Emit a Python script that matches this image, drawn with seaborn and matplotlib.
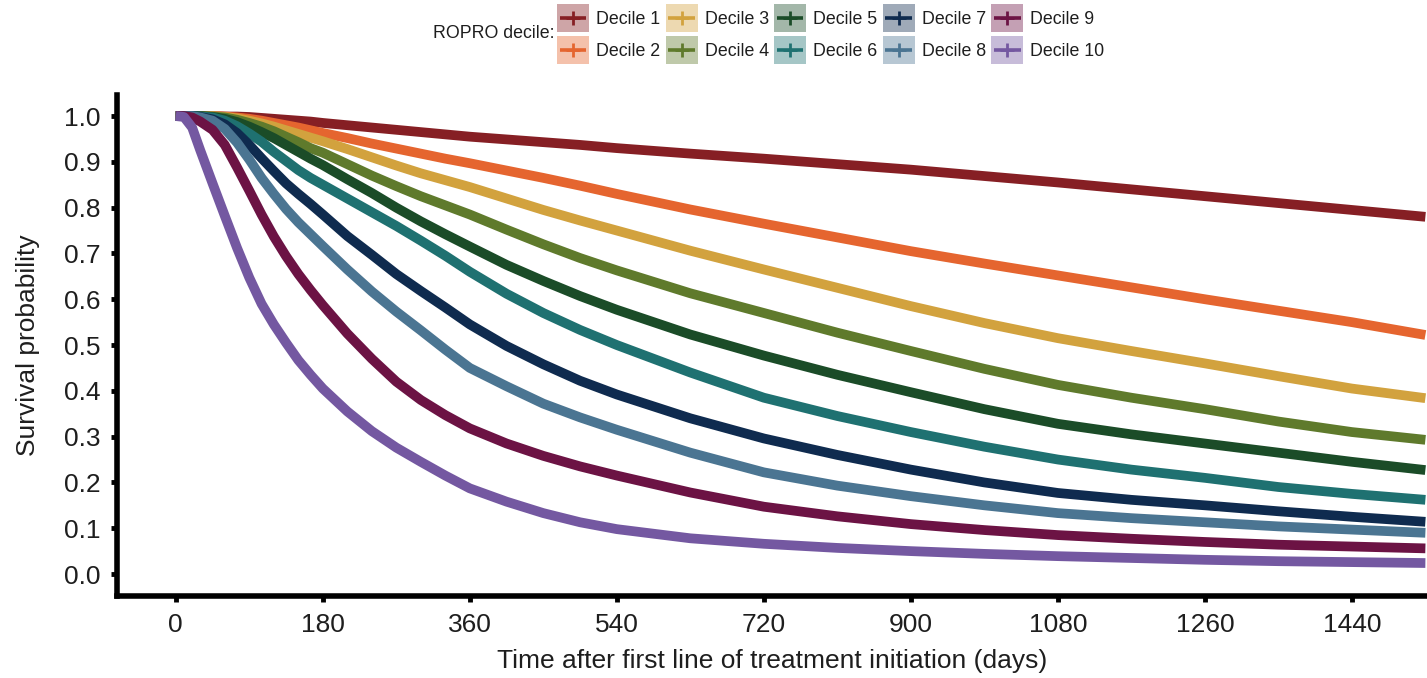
import numpy as np
import pandas as pd
import matplotlib
matplotlib.use("Agg")
import matplotlib.pyplot as plt
import seaborn as sns
from matplotlib.patches import Rectangle
from matplotlib.lines import Line2D
from matplotlib.legend_handler import HandlerBase

# Kaplan-Meier survival estimates by ROPRO decile (days after 1L start)
days = [0, 10, 20, 30, 45, 60, 75, 90, 105, 120, 135, 150, 165, 180, 210,
        240, 270, 300, 330, 360, 405, 450, 495, 540, 630, 720, 810, 900,
        990, 1080, 1170, 1260, 1350, 1440, 1530]

decile_1 = [1.0, 1.0, 1.0, 1.0, 1.0, 0.999, 0.999, 0.998, 0.996, 0.994,
            0.992, 0.99, 0.988, 0.985, 0.98, 0.975, 0.97, 0.965, 0.96, 0.955,
            0.949, 0.943, 0.937, 0.93, 0.918, 0.907, 0.895, 0.883, 0.869,
            0.855, 0.84, 0.825, 0.81, 0.795, 0.78]
decile_2 = [1.0, 1.0, 1.0, 1.0, 1.0, 0.999, 0.997, 0.994, 0.99, 0.985,
            0.98, 0.975, 0.969, 0.963, 0.952, 0.94, 0.929, 0.918, 0.907,
            0.897, 0.881, 0.865, 0.848, 0.83, 0.796, 0.765, 0.735, 0.705,
            0.678, 0.652, 0.626, 0.6, 0.575, 0.55, 0.522]
decile_3 = [1.0, 1.0, 1.0, 1.0, 1.0, 0.998, 0.995, 0.99, 0.984, 0.977,
            0.969, 0.961, 0.953, 0.945, 0.928, 0.91, 0.892, 0.875, 0.86,
            0.845, 0.82, 0.795, 0.772, 0.75, 0.706, 0.665, 0.625, 0.585,
            0.548, 0.515, 0.487, 0.46, 0.432, 0.405, 0.384]
decile_4 = [1.0, 1.0, 1.0, 1.0, 0.999, 0.997, 0.992, 0.985, 0.977, 0.967,
            0.955, 0.943, 0.93, 0.92, 0.895, 0.87, 0.847, 0.825, 0.805,
            0.785, 0.752, 0.72, 0.69, 0.663, 0.613, 0.57, 0.527, 0.487,
            0.448, 0.413, 0.385, 0.36, 0.333, 0.31, 0.293]
decile_5 = [1.0, 1.0, 1.0, 1.0, 0.998, 0.994, 0.987, 0.977, 0.965, 0.952,
            0.937, 0.922, 0.907, 0.893, 0.862, 0.832, 0.8, 0.77, 0.742,
            0.715, 0.675, 0.64, 0.607, 0.577, 0.523, 0.477, 0.435, 0.397,
            0.36, 0.328, 0.305, 0.285, 0.265, 0.245, 0.227]
decile_6 = [1.0, 1.0, 1.0, 0.999, 0.997, 0.99, 0.978, 0.962, 0.944, 0.922,
            0.902, 0.882, 0.865, 0.85, 0.82, 0.79, 0.76, 0.728, 0.695,
            0.66, 0.612, 0.57, 0.533, 0.5, 0.44, 0.385, 0.345, 0.31,
            0.278, 0.25, 0.228, 0.21, 0.19, 0.175, 0.162]
decile_7 = [1.0, 1.0, 1.0, 0.998, 0.993, 0.982, 0.963, 0.937, 0.908, 0.88,
            0.853, 0.83, 0.808, 0.785, 0.738, 0.697, 0.655, 0.618, 0.582,
            0.545, 0.498, 0.458, 0.422, 0.392, 0.34, 0.296, 0.26, 0.228,
            0.2, 0.177, 0.162, 0.15, 0.137, 0.125, 0.114]
decile_8 = [1.0, 1.0, 1.0, 0.997, 0.99, 0.972, 0.942, 0.905, 0.865, 0.83,
            0.797, 0.768, 0.742, 0.716, 0.665, 0.617, 0.573, 0.532, 0.49,
            0.45, 0.41, 0.372, 0.342, 0.315, 0.265, 0.222, 0.193, 0.17,
            0.15, 0.133, 0.122, 0.113, 0.104, 0.097, 0.09]
decile_9 = [1.0, 1.0, 0.997, 0.988, 0.97, 0.937, 0.888, 0.837, 0.785, 0.737,
            0.694, 0.655, 0.62, 0.587, 0.525, 0.47, 0.42, 0.38, 0.347,
            0.318, 0.285, 0.258, 0.235, 0.215, 0.178, 0.147, 0.126, 0.109,
            0.096, 0.085, 0.077, 0.07, 0.064, 0.06, 0.056]
decile_10 = [1.0, 0.998, 0.975, 0.925, 0.853, 0.782, 0.712, 0.647, 0.59,
             0.545, 0.505, 0.467, 0.435, 0.405, 0.355, 0.312, 0.276, 0.245,
             0.215, 0.187, 0.158, 0.133, 0.113, 0.098, 0.078, 0.066, 0.057,
             0.05, 0.044, 0.039, 0.035, 0.031, 0.028, 0.026, 0.024]

decile_labels = [f"Decile {i}" for i in range(1, 11)]
survival = [decile_1, decile_2, decile_3, decile_4, decile_5,
            decile_6, decile_7, decile_8, decile_9, decile_10]

colors = ["#861F24", "#E5652F", "#D2A23E", "#5F7A2C", "#1B4C28",
          "#1F7171", "#0F2B4F", "#4B7592", "#6C1344", "#7458A1"]

x_ticks = [0, 180, 360, 540, 720, 900, 1080, 1260, 1440]
y_ticks = [0.0, 0.1, 0.2, 0.3, 0.4, 0.5, 0.6, 0.7, 0.8, 0.9, 1.0]

df = pd.DataFrame({
    "day": np.tile(days, len(decile_labels)),
    "survival": np.concatenate(survival),
    "decile": np.repeat(decile_labels, len(days)),
})

sns.set_theme(style="white")
plt.rcParams["font.family"] = ["Liberation Sans", "DejaVu Sans"]
text_color = "#1e1e1e"

fig = plt.figure(figsize=(14.27, 6.78), dpi=100)
fig.patch.set_facecolor("white")
ax = fig.add_axes([117 / 1427, 82 / 678, 1310 / 1427, 501 / 678])

sns.lineplot(data=df, x="day", y="survival", hue="decile",
             hue_order=decile_labels, palette=colors, linewidth=7,
             legend=False, ax=ax, solid_capstyle="butt",
             solid_joinstyle="round")

ax.set_xlim(-72, 1532)
ax.set_ylim(-0.048, 1.046)
ax.set_xticks(x_ticks)
ax.set_xticklabels([str(t) for t in x_ticks])
ax.set_yticks(y_ticks)
ax.set_yticklabels([f"{t:.1f}" for t in y_ticks])

for side in ["top", "right"]:
    ax.spines[side].set_visible(False)
for side in ["left", "bottom"]:
    ax.spines[side].set_linewidth(4)
    ax.spines[side].set_color("black")

ax.tick_params(axis="both", which="major", length=4, width=3.5,
               color="black", labelsize=19, labelcolor=text_color,
               direction="out", pad=8, left=True, bottom=True)

ax.set_xlabel("Time after first line of treatment initiation (days)",
              fontsize=19, color=text_color, labelpad=9)
ax.set_ylabel("Survival probability", fontsize=19, color=text_color,
              labelpad=17)


class DecileKey(HandlerBase):
    """Tinted square with a short line and a censor cross on top."""

    def create_artists(self, legend, orig_handle, xdescent, ydescent,
                       width, height, fontsize, trans):
        color = orig_handle
        cy = 0.36 * fontsize
        h = 20.0
        x0 = -xdescent
        box = Rectangle((x0, cy - h / 2), width, h, facecolor=color,
                        alpha=0.4, edgecolor="none", transform=trans)
        line = Line2D([x0 + 2, x0 + width - 2], [cy, cy], color=color,
                      lw=2.6, solid_capstyle="butt", transform=trans)
        cross = Line2D([x0 + width / 2], [cy], color=color, marker="+",
                       markersize=10, markeredgewidth=2, linestyle="none",
                       transform=trans)
        return [box, line, cross]


fig.text(433 / 1427, 1 - 34 / 678, "ROPRO decile:", fontsize=12.8,
         color=text_color, ha="left", va="center")
fig.legend(colors, decile_labels, ncol=5, loc="upper left",
           bbox_to_anchor=(557 / 1427, 1 - 9 / 678), frameon=False,
           fontsize=12.8, handlelength=1.8, handleheight=1.2,
           handletextpad=0.4, columnspacing=0.3, labelspacing=0.72,
           borderpad=0, borderaxespad=0,
           handler_map={str: DecileKey()},
           labelcolor=text_color)

fig.savefig("out.png", dpi=100, facecolor="white")
